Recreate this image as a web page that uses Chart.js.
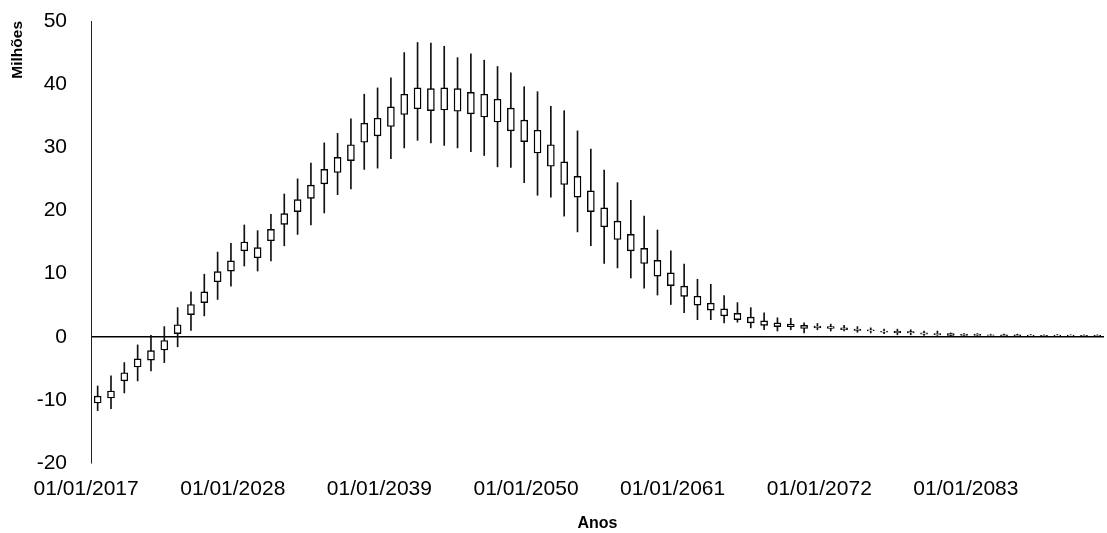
<!DOCTYPE html>
<html>
<head>
<meta charset="utf-8">
<script src="https://cdn.jsdelivr.net/npm/chart.js@4/dist/chart.umd.min.js"></script>
<style>
  html, body { margin: 0; padding: 0; background: #fff; }
  canvas { display: block; }
</style>
</head>
<body>
<canvas id="chart" width="1107" height="533"></canvas>
<script>
// Years on the x axis (one candle per year)
const years = [];
for (let y = 2017; y <= 2092; y++) years.push("01/01/" + y);

// Values (millions)
const minVals = [-11.7, -11.4, -8.9, -7.0, -5.4, -4.1, -1.6, 1.0, 3.3, 5.9,
  8.0, 11.2, 10.4, 12.0, 14.4, 16.2, 17.7, 19.6, 22.5, 23.4,
  26.5, 26.7, 28.2, 29.9, 31.1, 30.7, 30.3, 29.9, 29.3, 28.7,
  26.9, 26.8, 24.4, 22.4, 22.1, 19.1, 16.6, 14.4, 11.6, 10.9,
  9.3, 7.7, 6.6, 5.1, 3.8, 2.7, 2.7, 2.2, 2.3, 1.4,
  1.1, 0.9, 1.1, 0.6, 1.1, 0.9, 0.9, 0.7, 0.6, 0.5,
  0.3, 0.3, 0.2, 0.2, 0.1, 0.1, 0.1, 0.1, 0.0, 0.0,
  0.0, 0.0, 0.0, 0.0, 0.0, 0.0];
const boxBottom = [-10.5, -9.7, -7.0, -4.8, -3.7, -2.1, 0.5, 3.5, 5.4, 8.7,
  10.4, 13.6, 12.5, 15.2, 17.8, 19.8, 21.9, 24.2, 26.0, 27.9,
  30.8, 31.8, 33.3, 35.2, 36.1, 35.8, 35.9, 35.7, 35.3, 34.8,
  34.0, 32.6, 30.9, 29.1, 27.0, 24.1, 22.1, 19.8, 17.4, 15.4,
  13.6, 11.6, 9.6, 8.1, 6.4, 5.0, 4.2, 3.3, 2.7, 2.2,
  1.8, 1.6, 1.6, 1.3, 1.4, 1.3, 1.1, 1.0, 0.9, 0.7,
  0.6, 0.6, 0.4, 0.3, 0.2, 0.2, 0.2, 0.2, 0.15, 0.15,
  0.1, 0.1, 0.1, 0.1, 0.1, 0.1];
const boxTop = [-9.4, -8.6, -5.7, -3.5, -2.2, -0.6, 1.9, 5.1, 7.1, 10.3,
  12.0, 15.0, 14.1, 17.0, 19.5, 21.7, 24.0, 26.5, 28.4, 30.4,
  33.8, 34.6, 36.4, 38.4, 39.4, 39.3, 39.4, 39.3, 38.7, 38.4,
  37.6, 36.2, 34.3, 32.7, 30.4, 27.7, 25.4, 23.1, 20.4, 18.3,
  16.2, 14.0, 12.1, 10.1, 8.0, 6.4, 5.3, 4.4, 3.7, 3.1,
  2.5, 2.2, 2.0, 1.8, 1.7, 1.6, 1.4, 1.2, 1.1, 0.9,
  0.9, 0.8, 0.6, 0.5, 0.5, 0.4, 0.4, 0.3, 0.3, 0.3,
  0.25, 0.2, 0.25, 0.25, 0.2, 0.2];
const maxVals = [-7.8, -6.2, -4.1, -1.3, 0.2, 1.6, 4.6, 7.1, 9.9, 13.4,
  14.8, 17.7, 16.8, 19.4, 22.6, 25.0, 27.5, 30.7, 32.2, 34.5,
  38.4, 39.4, 41.0, 45.0, 46.6, 46.5, 46.0, 44.2, 44.8, 43.8,
  42.8, 41.8, 39.6, 38.8, 36.5, 35.8, 32.6, 29.7, 26.4, 24.4,
  21.6, 19.1, 16.9, 13.6, 11.5, 9.1, 8.3, 6.5, 5.4, 4.6,
  3.8, 3.0, 2.9, 2.2, 2.1, 2.0, 1.8, 1.6, 1.4, 1.2,
  1.2, 1.1, 0.9, 0.9, 0.6, 0.5, 0.5, 0.4, 0.4, 0.4,
  0.35, 0.3, 0.35, 0.3, 0.3, 0.3];
const yTicks = [-20, -10, 0, 10, 20, 30, 40, 50];
const labelEvery = 11;

const whiskers = years.map((_, i) => [minVals[i], maxVals[i]]);
const boxes = years.map((_, i) => [boxBottom[i], boxTop[i]]);

Chart.defaults.font.family = "'Liberation Sans', Arial, sans-serif";
Chart.defaults.color = "#000";

new Chart(document.getElementById("chart"), {
  type: "bar",
  data: {
    labels: years,
    datasets: [
      {
        label: "Caixa",
        data: boxes,
        grouped: false,
        order: 0,
        barThickness: 7,
        backgroundColor: "#fff",
        borderColor: "#000",
        borderWidth: 1.4,
        borderSkipped: false
      },
      {
        label: "Intervalo",
        data: whiskers,
        grouped: false,
        order: 1,
        barThickness: 1,
        backgroundColor: "#111",
        borderWidth: 0
      }
    ]
  },
  options: {
    responsive: false,
    animation: false,
    devicePixelRatio: 1,
    layout: { padding: { top: 21, right: 3, bottom: 0, left: 0 } },
    plugins: { legend: { display: false }, tooltip: { enabled: false } },
    scales: {
      x: {
        type: "category",
        offset: true,
        grid: { display: false, drawTicks: false },
        border: { display: false },
        ticks: {
          autoSkip: false,
          maxRotation: 0,
          padding: 14,
          labelOffset: -11.5,
          font: { size: 21 },
          callback: function (val, i) {
            return i % labelEvery === 0 ? this.getLabelForValue(val) : "";
          }
        },
        title: {
          display: true,
          text: "Anos",
          font: { size: 16, weight: "bold" },
          padding: { top: 0, bottom: 0 }
        },
        afterFit: s => { s.height = 533 - 463; s.paddingLeft = 0; s.paddingRight = 0; }
      },
      y: {
        min: -20,
        max: 50,
        afterBuildTicks: s => { s.ticks = yTicks.map(v => ({ value: v })); },
        grid: {
          drawTicks: false,
          color: c => (c.tick && c.tick.value === 0 ? "#000" : "transparent"),
          lineWidth: 1.6
        },
        border: { display: true, color: "#222", width: 1 },
        ticks: { padding: 24, font: { size: 21 } },
        title: {
          display: true,
          text: "Milhões",
          align: "end",
          font: { size: 15.5, weight: "bold" },
          padding: { top: 8, bottom: 0 }
        },
        afterFit: s => { s.width = 91; s.paddingTop = 0; s.paddingBottom = 0; }
      }
    }
  }
});
</script>
</body>
</html>
